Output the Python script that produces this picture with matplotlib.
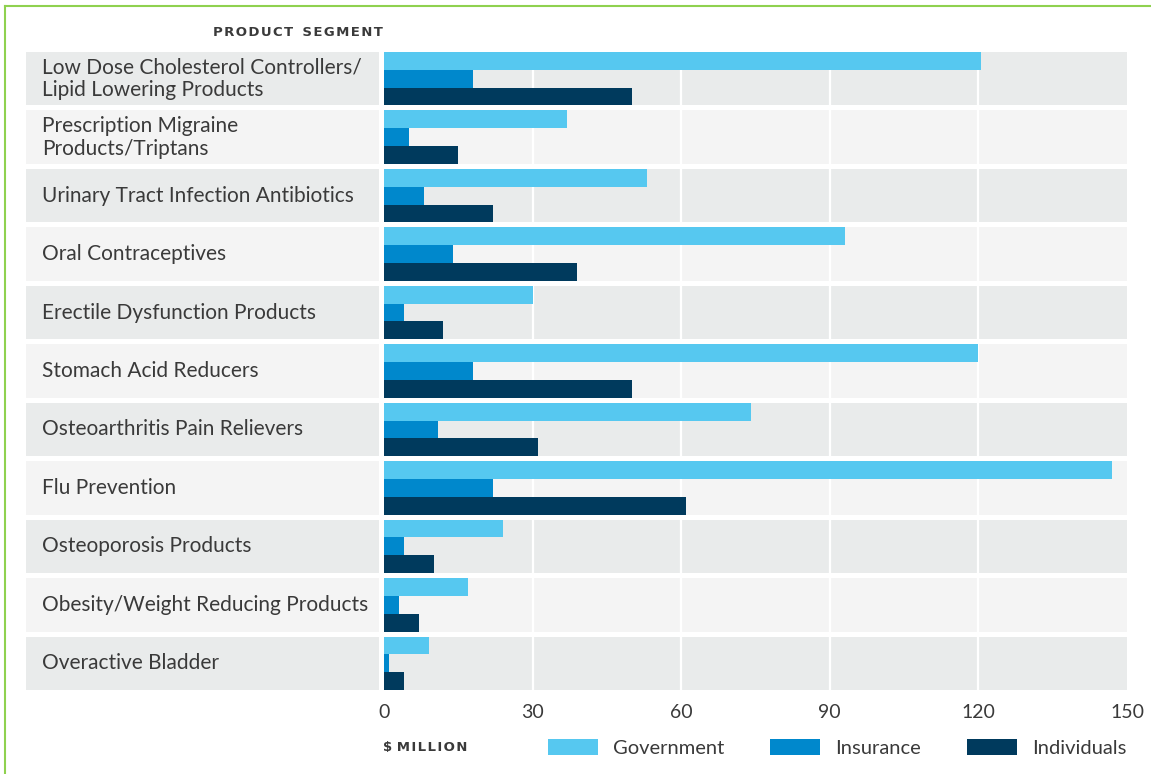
import matplotlib
matplotlib.use("Agg")
import matplotlib.pyplot as plt
from matplotlib.patches import Rectangle
from matplotlib.lines import Line2D

# ─── Data ─────────────────────────────────────────────────────────
segments = [
    "Low Dose Cholesterol Controllers/\nLipid Lowering Products",
    "Prescription Migraine\nProducts/Triptans",
    "Urinary Tract Infection Antibiotics",
    "Oral Contraceptives",
    "Erectile Dysfunction Products",
    "Stomach Acid Reducers",
    "Osteoarthritis Pain Relievers",
    "Flu Prevention",
    "Osteoporosis Products",
    "Obesity/Weight Reducing Products",
    "Overactive Bladder",
]
government  = [120.5, 37, 53, 93, 30, 120, 74, 147, 24, 17, 9]
insurance   = [18, 5, 8, 14, 4, 18, 11, 22, 4, 3, 1]
individuals = [50, 15, 22, 39, 12, 50, 31, 61, 10, 7, 4]
xticks = [0, 30, 60, 90, 120, 150]

# ─── Style ────────────────────────────────────────────────────────
C_GOV, C_INS, C_IND = "#56c8f0", "#0088cc", "#003a5d"
BAND_DARK, BAND_LIGHT = "#e9ebeb", "#f4f4f4"
TXT = "#3a3a3a"
plt.rcParams["font.family"] = ["Lato", "DejaVu Sans"]

W, H = 1151, 774
fig = plt.figure(figsize=(W / 100, H / 100), dpi=100)
ax = fig.add_axes([384 / W, 1 - 690 / H, (1127 - 384) / W, (690 - 52) / H])

band = 0.914          # band height relative to row pitch
bh = band / 3
n = len(segments)
ys = list(range(n))

for i in ys:
    col = BAND_DARK if i % 2 == 0 else BAND_LIGHT
    ax.add_patch(Rectangle((0, i), 150, band, color=col, zorder=0, lw=0))
    # label band to the left of the plot area
    ax.add_patch(Rectangle((-72.3, i), 71.2, band, color=col, zorder=0,
                           lw=0, clip_on=False))
    ax.text(-69.0, i + band / 2, segments[i], ha="left", va="center",
            fontsize=15, color=TXT, linespacing=1.2)

for x in xticks[1:-1]:
    ax.axvline(x, color="white", lw=1.6, zorder=1)

b1 = ax.barh([y for y in ys], government, height=bh, align="edge",
             color=C_GOV, zorder=2, label="Government")
b2 = ax.barh([y + bh for y in ys], insurance, height=bh, align="edge",
             color=C_INS, zorder=2, label="Insurance")
b3 = ax.barh([y + 2 * bh for y in ys], individuals, height=bh, align="edge",
             color=C_IND, zorder=2, label="Individuals")

ax.set_xlim(0, 150)
ax.set_ylim(n - 1 + band, 0)
ax.set_xticks(xticks)
ax.set_xticklabels([str(t) for t in xticks], fontsize=14, color=TXT)
ax.set_yticks([])
ax.tick_params(axis="x", length=0, pad=10)
for s in ax.spines.values():
    s.set_visible(False)
ax.patch.set_alpha(0)

hs = "\u200a"
fig.text(383 / W, 1 - 33 / H, hs.join("PRODUCT") + "  " + hs.join("SEGMENT"),
         ha="right", va="center", fontsize=9.5, fontweight="bold", color=TXT,
         family="DejaVu Sans")
fig.text(383 / W, 1 - 748 / H, "$ " + hs.join("MILLION"), ha="left",
         va="center", fontsize=9.5, fontweight="bold", color=TXT,
         family="DejaVu Sans")

fig.legend(handles=[b1, b2, b3], loc="center left",
           bbox_to_anchor=(548 / W, 1 - 748 / H), ncol=3, frameon=False,
           fontsize=14.5, labelcolor=TXT, handlelength=2.5, handleheight=0.85,
           handletextpad=0.75, columnspacing=2.25, borderpad=0,
           borderaxespad=0)

# thin green frame (top + left)
green = "#8fd14f"
fig.add_artist(Line2D([5 / W, 5 / W], [0, 1 - 6 / H], color=green, lw=1.5))
fig.add_artist(Line2D([5 / W, 1], [1 - 6 / H, 1 - 6 / H], color=green, lw=1.5))

fig.savefig("out.png", dpi=100)
